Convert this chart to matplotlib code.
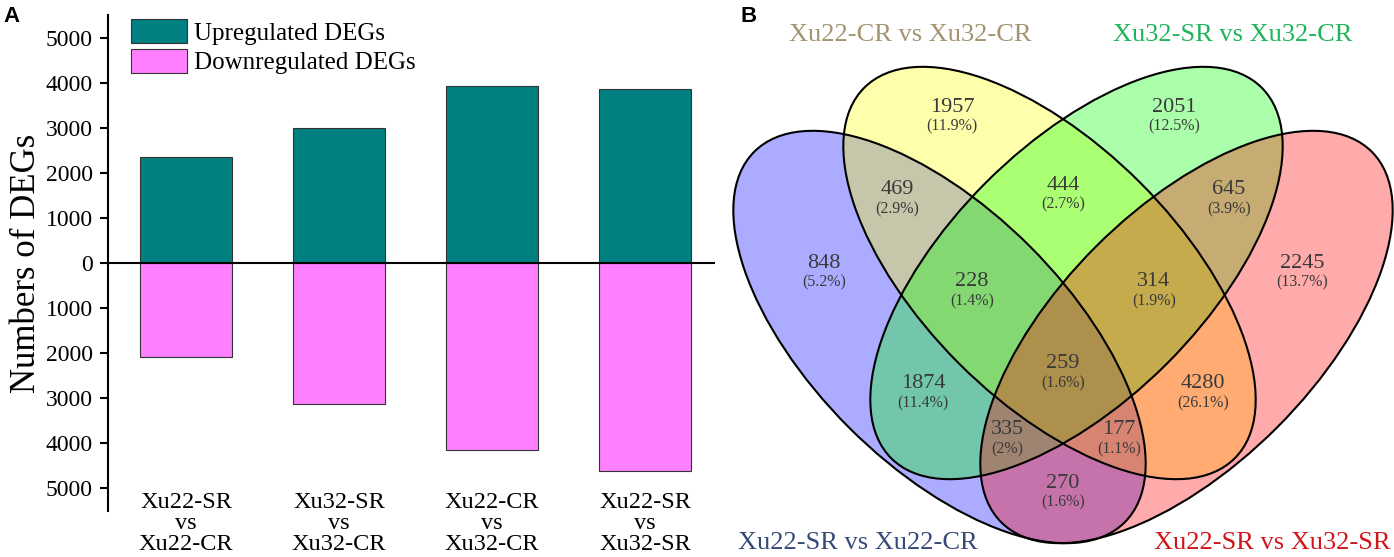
import matplotlib.pyplot as plt
from matplotlib.patches import Ellipse

plt.rcParams['font.family'] = ['Liberation Serif', 'DejaVu Serif']

# panel A data
comparisons = ['Xu22-SR\nvs\nXu22-CR', 'Xu32-SR\nvs\nXu32-CR',
               'Xu22-CR\nvs\nXu32-CR', 'Xu22-SR\nvs\nXu32-SR']
up_degs = [2350, 3010, 3930, 3870]
down_degs = [2090, 3130, 4150, 4620]

# panel B data (order: blue, yellow, green, red)
venn_sets = ['Xu22-SR vs Xu22-CR', 'Xu22-CR vs Xu32-CR',
             'Xu32-SR vs Xu32-CR', 'Xu22-SR vs Xu32-SR']
region_counts = [848, 1957, 2051, 2245, 469, 444, 645, 1874, 4280,
                 270, 228, 314, 335, 177, 259]
region_pcts = ['5.2', '11.9', '12.5', '13.7', '2.9', '2.7', '3.9', '11.4', '26.1',
               '1.6', '1.4', '1.9', '2', '1.1', '1.6']

# layout (pixels of the 1394x557 canvas)
region_xy = [(824, 263), (952, 107), (1174, 107), (1302, 263), (897, 190), (1063, 185),
             (1229, 190), (923, 384), (1203, 384), (1063, 483), (972, 282), (1154, 282),
             (1007, 430), (1119, 430), (1063, 364)]
ellipse_centers = [(939.5, 337), (1049.5, 273), (1076.5, 273), (1186.5, 337)]
ellipse_angles = [45, 45, -45, -45]
ellipse_fills = ['#0000ff', '#ffff00', '#00ff00', '#ff0000']
set_label_xy = [(858, 543), (910, 35), (1233, 35), (1272, 543)]
set_label_colors = ['#354a78', '#a39371', '#1fb45a', '#d0161b']

W, H = 1394, 557
fig = plt.figure(figsize=(W / 100, H / 100), dpi=100)

# ---- A: bar chart
ax = fig.add_axes([108 / W, 1 - 511 / H, (715 - 108) / W, (511 - 15) / H])
x = range(len(comparisons))
ax.bar(x, up_degs, width=0.6, color='#008080', edgecolor='#333333', linewidth=0.8,
       label='Upregulated DEGs')
ax.bar(x, [-v for v in down_degs], width=0.6, color='#ff80ff', edgecolor='#333333',
       linewidth=0.8, label='Downregulated DEGs')
ax.axhline(0, color='black', linewidth=1.5)
ax.set_xlim(-0.51, 3.457)
ax.set_ylim(-5511, 5511)
ticks = list(range(-5000, 5001, 1000))
ax.set_yticks(ticks)
ax.set_yticklabels([str(abs(t)) for t in ticks], fontsize=17)
ax.set_xticks(list(x))
ax.set_xticklabels(comparisons, fontsize=17.5, linespacing=1.0)
ax.tick_params(axis='x', length=0, pad=-14)
ax.tick_params(axis='y', direction='out', length=6, width=1.5, pad=5)
for s in ['top', 'right', 'bottom']:
    ax.spines[s].set_visible(False)
ax.spines['left'].set_linewidth(1.5)
ax.set_ylabel('Numbers of DEGs', fontsize=25, labelpad=2)
ax.legend(loc='upper left', bbox_to_anchor=(131 / W, 1 - 19 / H),
          bbox_transform=fig.transFigure, frameon=False, fontsize=18,
          borderpad=0, borderaxespad=0, handlelength=2.24, handleheight=1.12,
          labelspacing=0.16, handletextpad=0.3)
fig.text(3 / W, 1 - 6 / H, 'A', fontsize=16, fontweight='bold',
         family='Liberation Sans', ha='left', va='top')

# ---- B: venn diagram, drawn in pixel units
vx = fig.add_axes([700 / W, 0, (W - 700) / W, 1])
vx.set_xlim(700, W)
vx.set_ylim(H, 0)
vx.axis('off')
for c, ang, col in zip(ellipse_centers, ellipse_angles, ellipse_fills):
    vx.add_patch(Ellipse(c, 524, 256, angle=ang, facecolor=col, alpha=0.33,
                         edgecolor='none'))
for c, ang in zip(ellipse_centers, ellipse_angles):
    vx.add_patch(Ellipse(c, 524, 256, angle=ang, fill=False, edgecolor='black',
                         linewidth=1.5))
for (px, py), n, p in zip(region_xy, region_counts, region_pcts):
    vx.text(px, py, str(n), fontsize=16, color='#3a3a3a', ha='center', va='center')
    vx.text(px, py + 19, '(' + p + '%)', fontsize=11.5, color='#3a3a3a',
            ha='center', va='center')
for (px, py), name, col in zip(set_label_xy, venn_sets, set_label_colors):
    vx.text(px, py, name, fontsize=19, color=col, ha='center', va='center')
fig.text(740 / W, 1 - 6 / H, 'B', fontsize=16, fontweight='bold',
         family='Liberation Sans', ha='left', va='top')

fig.savefig('out.png', dpi=100)
